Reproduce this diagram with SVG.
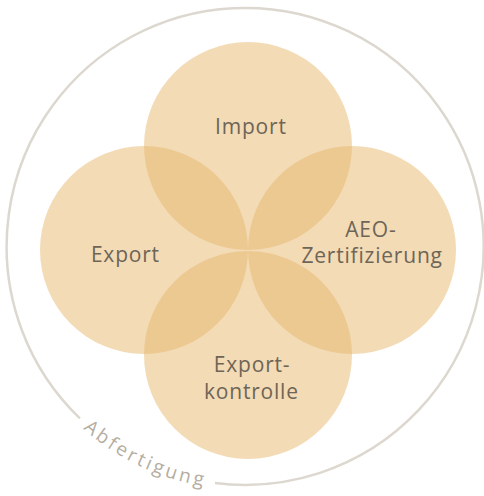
<svg xmlns="http://www.w3.org/2000/svg" width="484" height="496" viewBox="0 0 484 496">
<style>
.c{fill:#e8b86d;fill-opacity:0.5}
.t{font-family:"Open Sans","Liberation Sans",sans-serif;font-size:21px;fill:#6e6556;letter-spacing:0.8px;text-anchor:middle}
.ring{fill:none;stroke:#ddd8cf;stroke-width:2.5}
.lbl{font-family:"Open Sans","Liberation Sans",sans-serif;font-size:19px;fill:#b5ad9f;letter-spacing:3px;text-anchor:middle}
</style>
<defs>
<path id="tp" d="M57.8,402.7 A243,243 0 0 0 244,489.5"/>
</defs>
<g id="connectors"/>
<g id="abfertigung">
<path class="ring" d="M79.9,418.4 A238.5,238.5 0 1 1 215,483"/>
<text class="lbl"><textPath href="#tp" startOffset="104.8">Abfertigung</textPath></text>
</g>
<g id="import"><circle class="c" cx="248" cy="146" r="104"/><text class="t" x="250.9" y="133.5">Import</text></g>
<g id="export"><circle class="c" cx="144" cy="250" r="104"/><text class="t" x="125.4" y="261.7">Export</text></g>
<g id="aeo"><circle class="c" cx="352" cy="250" r="104"/><text class="t" x="370.9" y="236.7">AEO-</text><text class="t" x="372.1" y="263.3">Zertifizierung</text></g>
<g id="exportkontrolle"><circle class="c" cx="248" cy="355" r="104"/><text class="t" x="252.1" y="372">Export-</text><text class="t" x="251.4" y="398.6">kontrolle</text></g>
</svg>
